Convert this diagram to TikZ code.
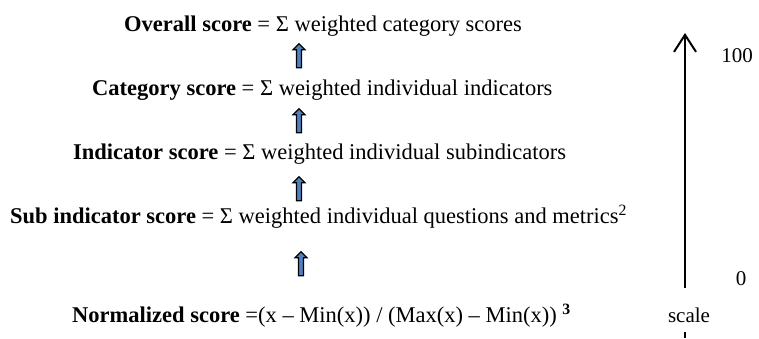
\documentclass[tikz,border=0pt]{standalone}
\usepackage{fontspec}
\setmainfont{Liberation Serif}
\usetikzlibrary{arrows.meta,shapes.arrows}
\definecolor{arrowblue}{HTML}{4F81BD}
\tikzset{
  lbl/.style={anchor=base west, inner sep=0pt, font=\fontsize{22.5}{26}\selectfont},
  num/.style={anchor=center, inner sep=0pt, font=\fontsize{21}{24}\selectfont},
  uparrow/.style={single arrow, draw=black, fill=arrowblue, line width=1.2pt,
    rotate=90, minimum width=12pt, minimum height=24pt, single arrow head extend=3pt,
    single arrow tip angle=90, inner sep=1.5pt},
  scaleline/.style={line width=2pt},
}
\begin{document}
\begin{tikzpicture}[x=1pt,y=-1pt]
\useasboundingbox (0,0) rectangle (759,338);
\node[lbl] (l1) at (124,31) {\textbf{Overall score} = Σ weighted category scores};
\node[lbl] (l2) at (92,95) {\textbf{Category score} = Σ weighted individual indicators};
\node[lbl] (l3) at (73,159) {\textbf{Indicator score} = Σ weighted individual subindicators};
\node[lbl] (l4) at (10,223) {\textbf{Sub indicator score} = Σ weighted individual questions and metrics\textsuperscript{2}};
\node[lbl] (l5) at (72,322) {\textbf{Normalized score} =(x – Min(x)) / (Max(x) – Min(x)) \textsuperscript{\textbf{3}}};
\node[uparrow] (a1) at (299,57) {};
\node[uparrow] (a2) at (299,122) {};
\node[uparrow] (a3) at (299,190) {};
\node[uparrow] (a4) at (301,265) {};
\coordinate (sbot) at (685,288);
\coordinate (stop) at (685,33);
\draw[scaleline, -{Straight Barb[length=17pt,width=22pt,line width=2pt]}] (sbot) -- (stop);
\node[num] (n100) at (737,56) {100};
\node[num] (n0) at (741,279) {0};
\node[num, anchor=base] (sc) at (689,322) {scale};
\coordinate (tb) at (685,332);
\coordinate (te) at (685,338);
\draw[scaleline] (tb) -- (te);
\end{tikzpicture}
\end{document}
